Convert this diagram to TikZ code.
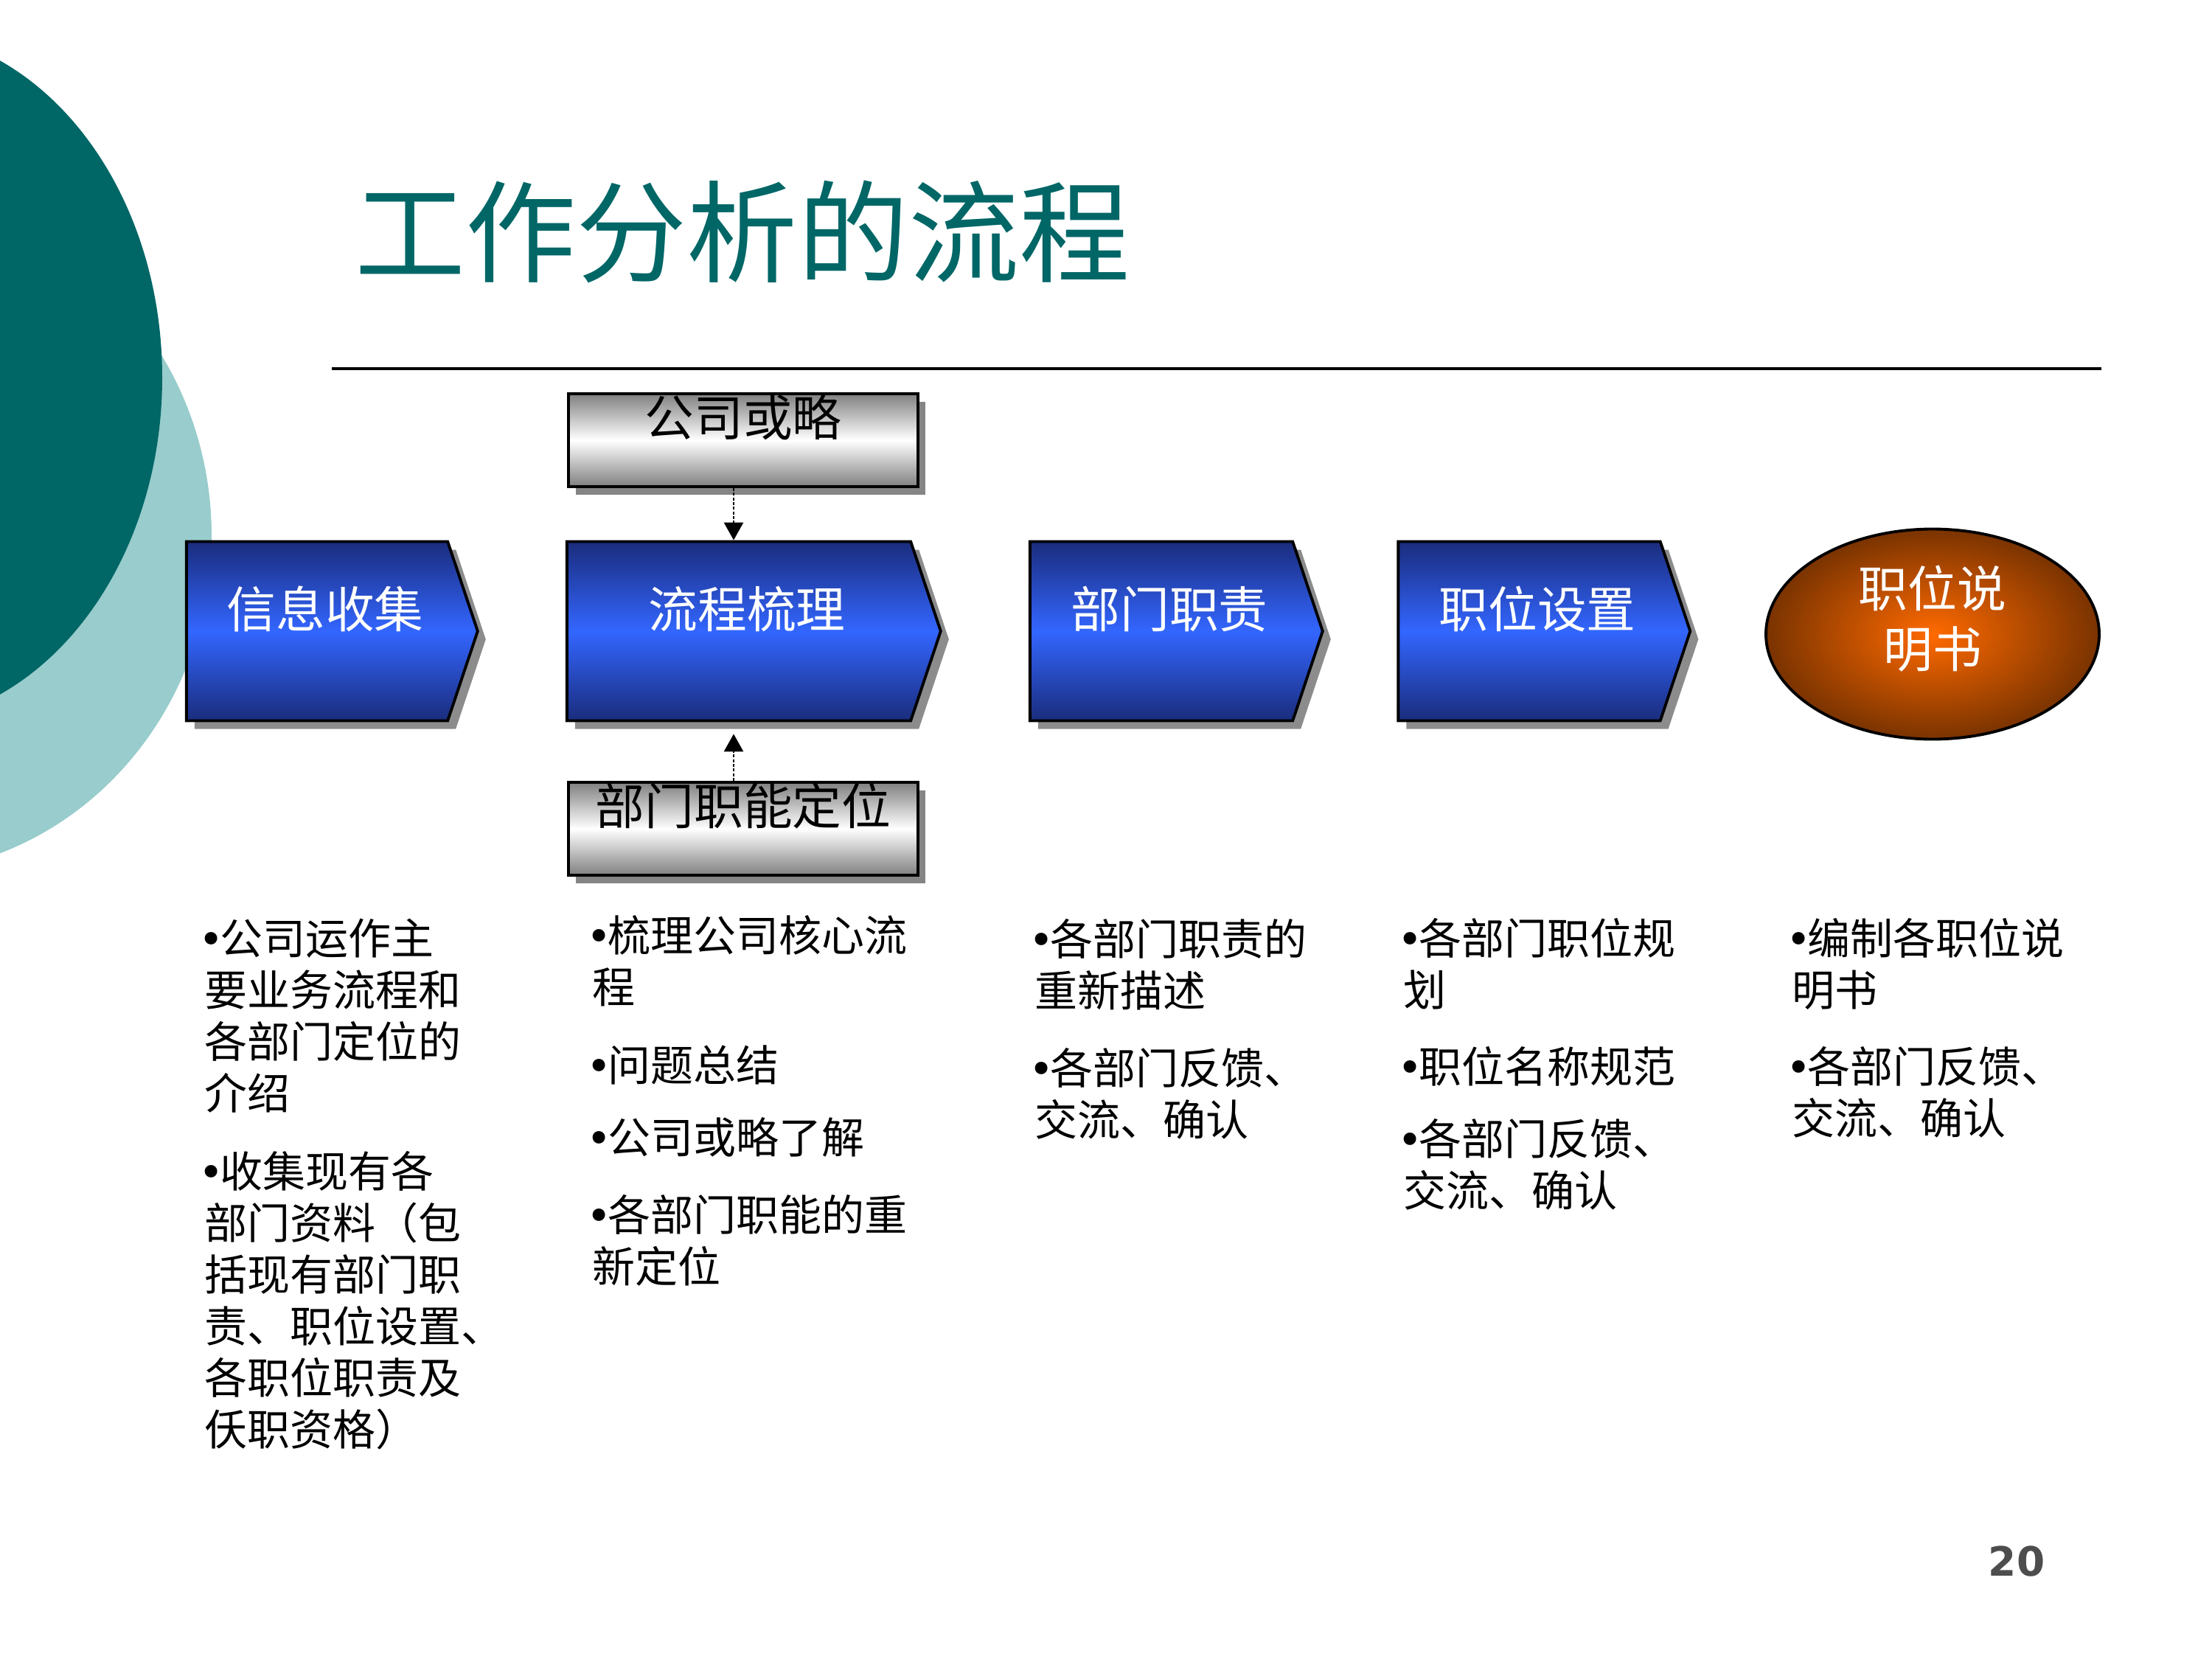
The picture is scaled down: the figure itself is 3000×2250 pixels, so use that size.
\documentclass[tikz,border=0pt]{standalone}
\usepackage{fontspec}
\setmainfont{Noto Sans CJK SC}
\newfontfamily\numfont{DejaVu Sans}
\usetikzlibrary{shapes.symbols,shapes.geometric,shadows,arrows.meta}
\definecolor{tealdark}{HTML}{006666}
\definecolor{teallight}{HTML}{99CCCC}
\definecolor{navyblue}{HTML}{1A2C7C}
\definecolor{brightblue}{HTML}{3366FF}
\definecolor{midgrey}{HTML}{808080}
\definecolor{shadowgrey}{HTML}{858585}
\definecolor{brightorange}{HTML}{FF6A00}
\definecolor{darkbrown}{HTML}{7A3300}
\definecolor{pagegrey}{HTML}{4D4D4D}
\newcommand\bul{\kern-0.15em{\numfont •}\kern-0.08em}
\begin{document}
\begin{tikzpicture}[
  x=0.1mm, y=-0.1mm,
  chevron/.style={signal, signal to=east, signal pointer angle=143, draw=black, line width=1.1pt,
    top color=navyblue, bottom color=navyblue, middle color=brightblue,
    minimum height=24.3mm, inner sep=0pt, text=white, font=\fontsize{19}{23}\selectfont,
    text height=6mm, text depth=7mm, execute at begin node=\hspace*{2.2mm},
    drop shadow={shadow xshift=1.1mm, shadow yshift=-1.1mm, fill=black, opacity=0.45}},
  greybox/.style={rectangle, draw=black, line width=1.1pt,
    top color=midgrey, bottom color=midgrey, middle color=white,
    minimum width=47.4mm, minimum height=12.6mm, inner sep=0pt, font=\fontsize{19}{22}\selectfont,
    text height=5.5mm, text depth=6.7mm,
    drop shadow={shadow xshift=1mm, shadow yshift=-1.1mm, fill=shadowgrey, opacity=1}},
  goal/.style={ellipse, draw=black, line width=1.1pt, inner color=brightorange, outer color=darkbrown,
    minimum width=45.2mm, minimum height=28.5mm, inner sep=0pt, align=center, text=white,
    font=\fontsize{19}{23.3}\selectfont, text depth=4.7mm},
  note/.style={anchor=north west, align=left, inner sep=0pt, font=\fontsize{16.5}{19.9}\selectfont},
  linkarrow/.style={line width=0.8pt, dash pattern=on 1.2pt off 0.6pt, -{Triangle[width=2.6mm,length=2.4mm]}}
]
  \useasboundingbox (0,0) rectangle (3000,2250);

  \begin{scope}
    \clip (0,0) rectangle (3000,2250);
    \fill[teallight] (-150,727) ellipse [x radius=437, y radius=458];
    \fill[tealdark] (-150,512) ellipse [x radius=370, y radius=470];
  \end{scope}

  \node[anchor=west, inner sep=0pt, text=tealdark, font=\fontsize{42.7}{50}\selectfont] (title) at (481,314) {工作分析的流程};
  \draw[line width=0.45mm] (450,500) -- (2850,500);

  \node[chevron, minimum width=39.5mm] (info) at (430,856) {信息收集};
  \node[chevron, minimum width=50.7mm] (flow) at (1002,856) {流程梳理};
  \node[chevron, minimum width=39.7mm] (dept) at (1575,856) {部门职责};
  \node[chevron, minimum width=39.6mm] (post) at (2074,856) {职位设置};
  \node[goal] (spec) at (2621,860) {职位说\\明书};

  \node[greybox] (strat) at (1008,597) {公司或略};
  \node[greybox] (func) at (1008,1124) {部门职能定位};

  \draw[linkarrow] ([xshift=-1.3mm]strat.south) -- ([xshift=-1.3mm]strat.south |- flow.north);
  \draw[linkarrow, shorten >=1.6mm] ([xshift=-1.3mm]func.north) -- ([xshift=-1.3mm]func.north |- flow.south);

  \node[note] (p11) at (277,1245) {\bul 公司运作主\\要业务流程和\\各部门定位的\\介绍};
  \node[note] (p12) at (277,1561) {\bul 收集现有各\\部门资料（包\\括现有部门职\\责、职位设置、\\各职位职责及\\仸职资格）};

  \node[note] (p21) at (803,1241) {\bul 梳理公司核心流\\程};
  \node[note] (p22) at (803,1417) {\bul 问题总结};
  \node[note] (p23) at (803,1515) {\bul 公司或略了解};
  \node[note] (p24) at (803,1620) {\bul 各部门职能的重\\新定位};

  \node[note] (p31) at (1403,1246) {\bul 各部门职责的\\重新描述};
  \node[note] (p32) at (1403,1421) {\bul 各部门反馈、\\交流、确认};

  \node[note] (p41) at (1903,1245) {\bul 各部门职位规\\划};
  \node[note] (p42) at (1903,1419) {\bul 职位名称规范};
  \node[note] (p43) at (1903,1517) {\bul 各部门反馈、\\交流、确认};

  \node[note] (p51) at (2430,1245) {\bul 编制各职位说\\明书};
  \node[note] (p52) at (2430,1419) {\bul 各部门反馈、\\交流、确认};

  \node[inner sep=0pt, text=pagegrey, font=\numfont\bfseries\fontsize{15.6}{18}\selectfont] (pageno) at (2735,2118) {20};
\end{tikzpicture}
\end{document}
